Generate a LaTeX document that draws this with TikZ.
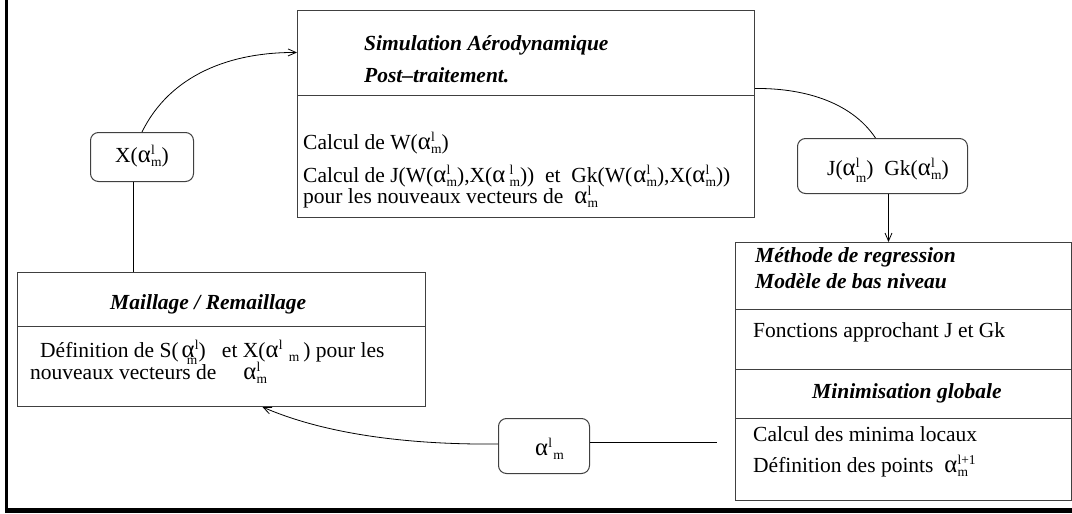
\documentclass[tikz,border=0pt]{standalone}
\usepackage{fontspec}
\setmainfont{Liberation Serif}
\usetikzlibrary{arrows.meta}
\newlength\supw
\newlength\subw
\newcommand\ssz{\fontsize{13.5}{13.5}\selectfont}
\newcommand\alm[2]{\scalebox{1.15}{α}\kern0.3pt\settowidth\supw{\ssz #1}\settowidth\subw{\ssz #2}%
\ifdim\supw>\subw\setlength\subw{\supw}\fi
\smash{\rlap{\raisebox{7.5pt}{\ssz #1}}\rlap{\raisebox{-4.5pt}{\ssz #2}}}\hspace{\subw}}
\begin{document}
\begin{tikzpicture}[x=1pt,y=-1pt,
  box/.style={draw=black!75,line width=1pt,inner sep=0pt,anchor=north west},
  rbox/.style={box,rounded corners=8pt},
  divl/.style={draw=black!75,line width=1pt},
  txt/.style={anchor=base west,inner sep=0pt,font=\fontsize{21.5}{24}\selectfont},
  hdr/.style={txt,font=\fontsize{21.5}{24}\selectfont\bfseries\itshape},
  conn/.style={draw=black,line width=0.8pt},
  arr/.style={conn,-{Straight Barb[length=8pt,width=7pt,line width=0.8pt]}}]
\useasboundingbox (0,0) rectangle (1072,514);
% frame
\draw[line width=3pt] (6.5,0) -- (6.5,512);
\draw[line width=5pt] (5,510.5) -- (1072,510.5);

% boxes
\node[box,minimum width=457pt,minimum height=207pt] (sim) at (297,10) {};
\draw[divl] (297,95) -- (754,95);
\node[box,minimum width=408pt,minimum height=134pt] (mail) at (17,272) {};
\draw[divl] (17,326) -- (425,326);
\node[box,minimum width=336pt,minimum height=258pt] (opt) at (735,242) {};
\draw[divl] (735,309) -- (1071,309);
\draw[divl] (735,369) -- (1071,369);
\draw[divl] (735,418) -- (1071,418);
\node[rbox,minimum width=103pt,minimum height=49pt] (xbox) at (90,132) {};
\node[rbox,minimum width=170pt,minimum height=55pt] (jbox) at (797,138) {};
\node[rbox,minimum width=91pt,minimum height=55pt] (abox) at (498,418) {};

% texts: simulation
\node[hdr] (s1) at (364,50) {Simulation Aérodynamique};
\node[hdr] (s2) at (364,82) {Post–traitement.};
\node[txt] (s3) at (303,149) {Calcul de W(\alm{l}{m})};
\node[txt] (s4) at (303,182) {Calcul de J(W(\alm{l}{m}),X(\alm{\kern4pt l}{\kern4pt m})) \ et \ Gk(W(\kern1pt\alm{l}{m}),X(\alm{l}{m}))};
\node[txt] (s5) at (303,203) {pour les nouveaux vecteurs de \ \alm{l}{m}};

% texts: maillage
\node[hdr] (m1) at (110,309) {Maillage / Remaillage};
\node[txt] (m2) at (40,357) {Définition de S(\kern3pt\alm{l}{\kern-8pt\raisebox{-3pt}{m}})\ \ \ et X(\alm{l}{\kern10pt m}\kern4pt) pour les};
\node[txt] (m3) at (30,379) {nouveaux vecteurs de\quad\ \alm{l}{m}};

% texts: optimisation
\node[hdr] (o1) at (755,262) {Méthode de regression};
\node[hdr] (o2) at (755,288) {Modèle de bas niveau};
\node[txt] (o3) at (753,337) {Fonctions approchant J et Gk};
\node[hdr] (o4) at (812,398) {Minimisation globale};
\node[txt] (o5) at (753,441) {Calcul des minima locaux};
\node[txt] (o6) at (753,472) {Définition des points \ \alm{l+1}{m}};

% small boxes texts
\node[txt] (xt) at (115,162) {X(\alm{l}{m})};
\node[txt] (jt) at (827,175) {J(\alm{l}{\raisebox{-3pt}{m}})\ \ Gk(\alm{l}{m})};
\node[txt] (at) at (535,455) {\alm{l}{\kern5pt m}};

% connectors
\draw[arr] (xbox.north) .. controls (170,75) and (230,52) .. ([yshift=61.5pt]sim.west);
\draw[conn] ([xshift=-8.5pt]xbox.south) -- ([xshift=-8.5pt]xbox.south |- mail.north);
\draw[conn] ([yshift=25.5pt]sim.east) .. controls (800,88) and (850,100) .. ([xshift=-7pt]jbox.north);
\draw[arr] ([xshift=6pt]jbox.south) -- ([xshift=6pt]jbox.south |- opt.north);
\coordinate (oend) at (717,442);
\draw[conn] (abox.east |- oend) -- (oend);
\draw[arr] ([yshift=2pt]abox.west) .. controls (400,445) and (320,432) .. ([xshift=41pt]mail.south);
\end{tikzpicture}
\end{document}
